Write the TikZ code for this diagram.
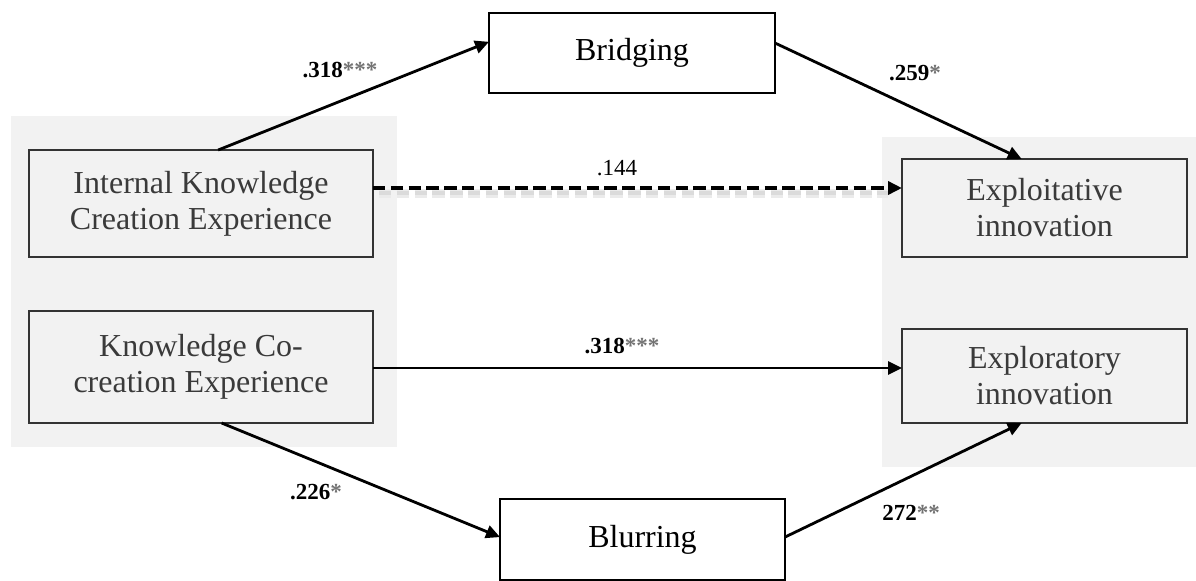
\documentclass[tikz,border=0pt]{standalone}
\usepackage{fontspec}
\setmainfont{Liberation Serif}
\usetikzlibrary{arrows.meta,calc}
\definecolor{bgpanel}{HTML}{F2F2F2}
\definecolor{boxline}{HTML}{333333}
\definecolor{boxtext}{HTML}{3A3A3A}
\tikzset{
  panel/.style={fill=bgpanel, draw=none},
  varbox/.style={draw=boxline, line width=1.4pt, fill=bgpanel, text=boxtext,
    font=\fontsize{16}{18}\selectfont, align=center, inner sep=0pt, outer sep=0pt},
  medbox/.style={draw=black, line width=1.4pt, fill=white, text=black,
    font=\fontsize{16}{18}\selectfont, align=center, inner sep=0pt, outer sep=0pt},
  path/.style={draw=black, line width=1.4pt, -{Triangle[length=7pt,width=6.5pt]}},
  dashpath/.style={draw=black, line width=2pt, dash pattern=on 6.2pt off 2.7pt,
    -{Triangle[length=7pt,width=6.5pt]}},
  coef/.style={font=\bfseries\fontsize{11.5}{13}\selectfont, inner sep=0pt},
  coefplain/.style={font=\fontsize{11.5}{13}\selectfont, inner sep=0pt},
}
\newcommand{\stars}[1]{\textcolor{black!55}{#1}}
\begin{document}
\begin{tikzpicture}[x=0.5pt,y=-0.5pt]
\useasboundingbox (0,0) rectangle (1196,580);
% background panels
\fill[panel] (11,116) rectangle (397,447);
\fill[panel] (882,137) rectangle (1196,467);
% nodes
\node[varbox, minimum width=172pt, minimum height=53.5pt] (ikce) at (201,203.5)
  {Internal Knowledge\\Creation Experience};
\node[varbox, minimum width=172pt, minimum height=56pt] (kcce) at (201,367)
  {Knowledge Co-\\creation Experience};
\node[varbox, minimum width=142.5pt, minimum height=49pt] (exploit) at (1044.5,208)
  {Exploitative\\innovation};
\node[varbox, minimum width=142.5pt, minimum height=47pt] (explor) at (1044.5,376)
  {Exploratory\\innovation};
\node[medbox, minimum width=143pt, minimum height=40pt] (bridging) at (632,53) {Bridging};
\node[medbox, minimum width=142.5pt, minimum height=40.5pt] (blurring) at (642.5,539.5) {Blurring};
% helper coordinates
\coordinate (dashy) at (0,188);
\coordinate (soly) at (0,368);
% soft shadow of dashed path
\draw[black!8, line width=4.5pt, dash pattern=on 6.2pt off 2.7pt]
  ($(ikce.east |- dashy)+(6,5)$) -- ($(exploit.west |- dashy)+(-14,5)$);
\draw[black!14, line width=2.2pt, dash pattern=on 6.2pt off 2.7pt]
  ($(ikce.east |- dashy)+(6,5)$) -- ($(exploit.west |- dashy)+(-14,5)$);
% connectors
\draw[path] ($(ikce.north west)!0.55!(ikce.north east)$) -- ($(bridging.north west)!0.36!(bridging.south west)$);
\draw[path] ($(bridging.north east)!0.375!(bridging.south east)$) -- ($(exploit.north west)!0.42!(exploit.north east)$);
\draw[dashpath] (ikce.east |- dashy) -- (exploit.west |- dashy);
\draw[path] (kcce.east |- soly) -- (explor.west |- soly);
\draw[path] ($(kcce.south west)!0.56!(kcce.south east)$) -- ($(blurring.north west)!0.47!(blurring.south west)$);
\draw[path] ($(blurring.north east)!0.47!(blurring.south east)$) -- ($(explor.south west)!0.42!(explor.south east)$);
% coefficient labels
\node[coef] (c1) at (340,70) {.318\stars{***}};
\node[coef] (c2) at (915,73) {.259\stars{*}};
\node[coefplain] (c3) at (617,168) {.144};
\node[coef] (c4) at (622,346) {.318\stars{***}};
\node[coef] (c5) at (316,492) {.226\stars{*}};
\node[coef] (c6) at (911,513) {272\stars{**}};
\end{tikzpicture}
\end{document}
